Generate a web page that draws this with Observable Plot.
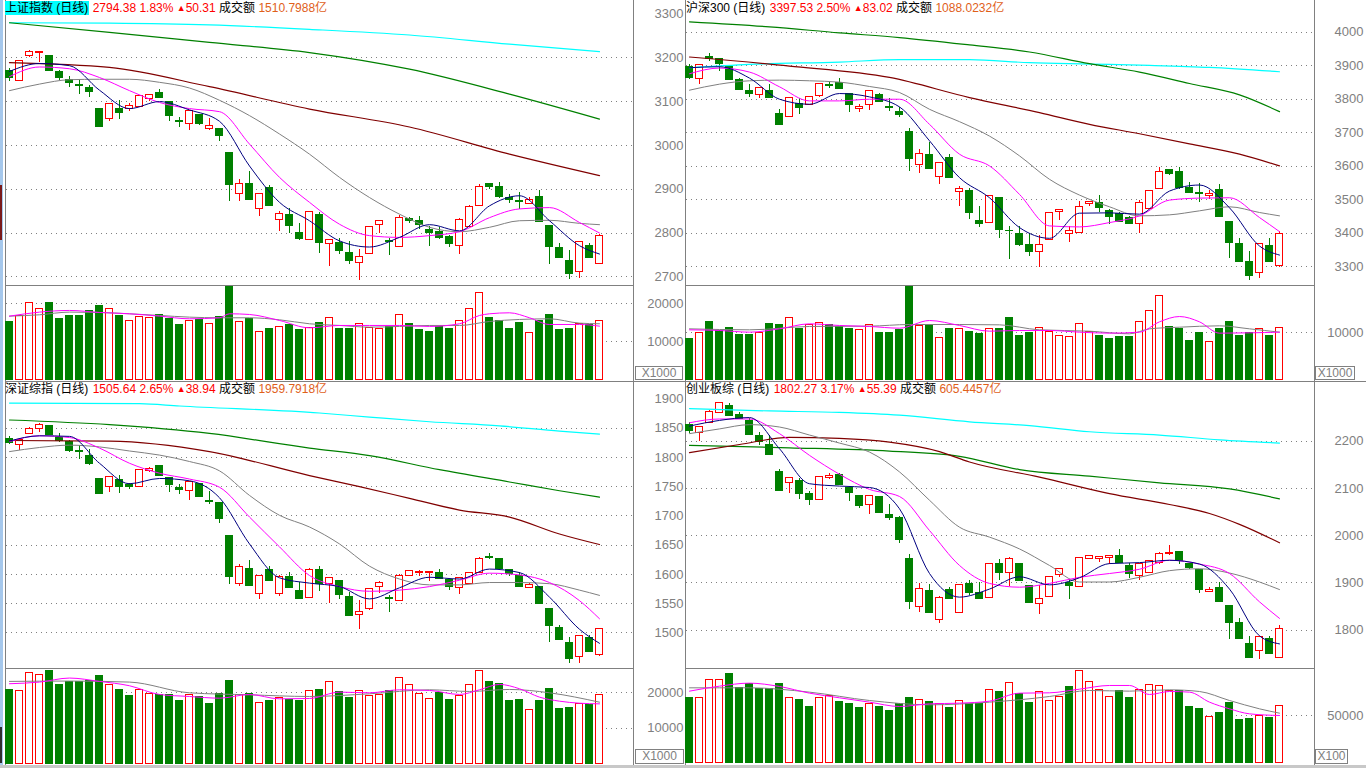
<!DOCTYPE html>
<html>
<head>
<meta charset="utf-8">
<script src="https://cdn.jsdelivr.net/npm/d3@7"></script>
<script src="https://cdn.jsdelivr.net/npm/@observablehq/plot@0.6"></script>
<style>
html,body{margin:0;padding:0;background:#fff;}
#root{position:relative;width:1366px;height:768px;overflow:hidden;background:#fff;font-family:"Liberation Sans",Arial,"Noto Sans CJK SC",sans-serif;}
.abs{position:absolute;}
.title{position:absolute;font-size:12px;line-height:16px;white-space:nowrap;color:#000;font-family:"Liberation Sans",Arial,"Noto Sans CJK SC",sans-serif;}
.red{color:#ff0000;}
.org{color:#e0601a;}
.tri{font-size:9px;vertical-align:1px;}
.unit{position:absolute;border:1px solid #808080;color:#808080;font-size:12px;line-height:12px;text-align:center;box-sizing:border-box;background:#fff;font-family:"Liberation Sans",Arial,sans-serif;}
</style>
</head>
<body>
<div id="root"></div>
<script>
// ---------------- DATA ----------------
// 上证指数 (top-left)
const shO = [3170,3147,3203,3211,3205,3168,3149,3137,3130,3082,3060,3084,3083,3087,3107,3120,3100,3056,3050,3070,3037,3038,2983,2889,2912,2855,2902,2830,2841,2800,2785,2841,2775,2777,2754,2731,2752,2818,2781,2769,2832,2828,2807,2803,2791,2771,2813,2861,2912,2906,2881,2872,2866,2883,2816,2766,2737,2711,2771,2729];
const shH = [3175,3193,3216,3214,3206,3171,3157,3151,3136,3085,3094,3102,3096,3113,3115,3127,3100,3064,3079,3070,3062,3038,2983,2922,2940,2889,2908,2848,2857,2822,2848,2846,2785,2787,2780,2763,2813,2828,2787,2840,2836,2837,2814,2812,2794,2834,2862,2910,2912,2915,2888,2892,2880,2897,2816,2776,2759,2780,2777,2796];
const shL = [3147,3146,3201,3189,3169,3149,3132,3117,3109,3041,3055,3058,3077,3087,3101,3107,3055,3040,3033,3045,3035,3009,2872,2872,2876,2838,2861,2803,2799,2783,2784,2753,2724,2752,2728,2692,2751,2800,2748,2768,2822,2808,2769,2785,2766,2751,2812,2860,2899,2878,2867,2854,2865,2826,2727,2742,2693,2697,2744,2728];
const shC = [3155,3192,3214,3213,3169,3155,3142,3135,3121,3041,3094,3075,3089,3113,3115,3109,3068,3054,3079,3050,3045,3022,2909,2913,2876,2889,2861,2843,2815,2787,2848,2777,2785,2759,2735,2746,2813,2828,2779,2835,2827,2818,2799,2788,2775,2830,2860,2906,2904,2883,2875,2870,2875,2826,2768,2742,2706,2780,2744,2794];
const shV = [15100,16700,20300,18700,20100,16100,16700,16900,18000,19300,18700,16700,15500,16600,16300,17000,16100,14400,15600,15800,14700,16400,24300,15300,16100,12600,13300,14000,14300,13000,13600,14900,16200,13300,13500,14700,13700,13500,13900,17100,14800,13200,12700,13900,13300,15400,18700,22900,16200,15400,13300,14900,12300,15400,17100,13200,13500,14800,14500,15500];

// 沪深300 (top-right)
const hsO = [3897,3860,3926,3919,3896,3858,3825,3813,3825,3755,3748,3787,3783,3810,3841,3847,3815,3770,3782,3813,3776,3762,3702,3603,3634,3568,3626,3523,3526,3437,3432,3504,3408,3399,3365,3345,3379,3465,3397,3402,3487,3490,3467,3457,3445,3427,3472,3531,3588,3582,3534,3519,3511,3528,3435,3368,3314,3282,3362,3302];
const hsH = [3904,3901,3937,3921,3898,3861,3843,3833,3843,3768,3803,3802,3809,3845,3849,3861,3815,3785,3825,3816,3803,3775,3714,3651,3670,3609,3636,3539,3535,3479,3511,3506,3420,3419,3399,3394,3461,3470,3421,3496,3496,3512,3470,3462,3450,3499,3527,3596,3588,3596,3551,3548,3527,3545,3435,3384,3345,3367,3385,3404];
const hsL = [3858,3845,3914,3882,3857,3828,3805,3802,3803,3723,3745,3755,3782,3805,3833,3832,3760,3760,3765,3790,3762,3745,3584,3578,3593,3546,3564,3479,3442,3417,3430,3384,3322,3360,3330,3297,3378,3437,3373,3401,3480,3462,3425,3435,3425,3400,3471,3530,3573,3531,3518,3491,3500,3449,3325,3315,3258,3266,3315,3297];
const hsC = [3864,3901,3919,3904,3857,3828,3817,3833,3805,3723,3803,3773,3807,3845,3839,3832,3782,3778,3825,3792,3774,3754,3623,3636,3593,3609,3564,3531,3461,3427,3511,3409,3406,3366,3345,3364,3461,3468,3407,3479,3493,3475,3450,3435,3429,3491,3525,3582,3578,3536,3519,3517,3517,3449,3372,3315,3273,3367,3315,3397];
const hsV = [8720,9860,12130,10280,10990,9430,9570,9930,11910,11700,13120,10640,11630,12060,11490,11130,10850,10570,11630,9860,10000,10570,19650,11280,11490,8870,10850,10780,10070,9720,10780,10780,13190,9360,9860,10990,10070,9150,9010,11840,10070,9150,8720,8940,8940,12270,14470,17870,11130,10640,8090,9790,8010,10850,12340,9150,9860,10780,9150,10990];

// 深证综指 (bottom-left)
const szO = [1831,1821,1840,1848,1853,1834,1827,1811,1802,1763,1749,1762,1752,1749,1776,1785,1765,1747,1742,1754,1726,1722,1665,1584,1609,1566,1608,1566,1596,1571,1560,1607,1584,1588,1562,1531,1540,1578,1559,1554,1598,1602,1602,1602,1591,1577,1584,1602,1630,1626,1608,1598,1577,1579,1541,1508,1482,1458,1491,1462];
const szH = [1836,1831,1851,1858,1854,1841,1829,1821,1813,1764,1767,1769,1756,1778,1782,1787,1766,1753,1758,1755,1741,1723,1666,1617,1624,1598,1613,1598,1603,1586,1610,1613,1595,1590,1569,1555,1576,1587,1563,1599,1606,1606,1605,1609,1592,1595,1603,1628,1635,1627,1609,1604,1585,1580,1542,1512,1492,1495,1496,1508];
const szL = [1822,1811,1839,1843,1839,1826,1809,1796,1787,1736,1740,1739,1745,1748,1775,1769,1740,1737,1727,1732,1719,1687,1582,1580,1580,1557,1588,1562,1576,1558,1559,1571,1550,1557,1529,1506,1539,1568,1535,1553,1597,1597,1587,1591,1572,1566,1583,1601,1625,1608,1597,1578,1575,1550,1483,1487,1447,1447,1468,1460];
const szC = [1824,1829,1849,1856,1839,1828,1811,1809,1788,1737,1767,1749,1750,1778,1780,1769,1752,1744,1758,1732,1724,1694,1595,1613,1580,1598,1588,1596,1576,1558,1608,1584,1594,1564,1529,1535,1575,1586,1557,1598,1605,1604,1604,1592,1578,1594,1602,1627,1628,1609,1600,1578,1581,1550,1512,1487,1456,1494,1468,1506];
const szV = [20660,20470,25690,25120,26070,22090,23030,23030,23320,24640,22270,20850,18960,20660,19720,19240,19240,17820,19430,18770,16970,19530,23220,19240,19720,17160,17540,18480,18100,17630,20470,20850,23130,20190,18390,20470,18960,19240,20380,24270,22090,19530,18290,19900,18100,19150,22270,26260,22940,22370,17820,18100,15170,17820,20950,15550,15830,16870,16680,19430];

// 创业板综 (bottom-right)
const cyO = [2234,2218,2239,2259,2274,2255,2243,2210,2193,2134,2112,2115,2088,2076,2122,2128,2102,2083,2065,2081,2043,2037,1951,1849,1884,1822,1886,1837,1897,1878,1869,1941,1921,1941,1894,1856,1870,1916,1900,1892,1951,1951,1952,1958,1936,1915,1922,1943,1962,1965,1941,1927,1881,1890,1851,1815,1771,1755,1782,1742];
const cyH = [2239,2229,2264,2281,2280,2261,2248,2219,2212,2140,2122,2121,2093,2124,2131,2132,2104,2085,2085,2082,2065,2040,1960,1898,1896,1872,1890,1897,1905,1901,1941,1950,1953,1941,1895,1894,1914,1931,1907,1954,1958,1957,1958,1970,1942,1941,1947,1964,1979,1966,1942,1928,1890,1902,1852,1824,1787,1786,1787,1811];
const cyL = [2216,2200,2237,2258,2254,2245,2212,2190,2170,2093,2089,2077,2063,2075,2118,2107,2073,2057,2045,2048,2033,1983,1843,1838,1837,1815,1865,1835,1873,1865,1868,1905,1893,1904,1857,1833,1869,1912,1864,1891,1949,1944,1940,1943,1909,1905,1921,1940,1959,1940,1929,1878,1879,1859,1780,1782,1740,1737,1749,1741];
const cyC = [2222,2229,2261,2280,2254,2247,2214,2198,2170,2095,2122,2088,2076,2124,2127,2107,2090,2063,2085,2048,2037,1990,1859,1888,1837,1869,1865,1896,1878,1865,1941,1921,1951,1904,1857,1866,1913,1930,1894,1953,1956,1955,1958,1943,1919,1941,1946,1962,1964,1947,1931,1886,1886,1859,1815,1782,1742,1785,1749,1802];
const cyV = [67830,68530,87410,87410,93010,78670,82520,77270,77270,82520,68530,65730,58390,68530,69930,63640,61890,57340,62240,58390,54200,62240,67830,66430,63640,62240,57340,65380,62240,62240,76920,74130,84270,72730,62590,74480,65380,69230,79370,96850,85310,76570,69580,75520,67830,76920,82170,80420,75520,75520,58390,56290,48950,52100,63290,44760,46850,49650,47900,60140];

// moving averages (sampled at candle indices)
const shortIdx = [0,3,6,9,12,15,18,21,24,27,30,33,36,39,42,45,48,51,54,57,59];
const shMa5  = [3169,3187,3182,3126,3084,3100,3081,3055,2953,2870,2828,2782,2768,2790,2819,2805,2862,2885,2828,2771,2752];
const shMa10 = [3157,3179,3175,3155,3125,3098,3084,3077,3003,2927,2870,2820,2794,2790,2794,2803,2835,2855,2858,2824,2800];
const shMa20 = [3125,3140,3150,3151,3151,3144,3131,3103,3068,3026,2980,2927,2881,2843,2813,2803,2813,2828,2829,2822,2819];
const shLongIdx = [0,10,20,30,40,50,59];
const shMa60  = [3189,3178,3134,3083,3042,2980,2931];
const shMa120 = [3280,3258,3235,3212,3174,3117,3060];
const shMa250 = [3280,3279,3275,3265,3252,3231,3214];

const hsMa5  = [3894,3897,3863,3800,3785,3817,3807,3777,3676,3566,3506,3417,3385,3460,3461,3457,3526,3544,3476,3362,3335];
const hsMa10 = [3876,3893,3881,3837,3795,3795,3800,3800,3725,3636,3601,3516,3422,3419,3432,3452,3499,3505,3506,3447,3405];
const hsMa20 = [3827,3845,3855,3857,3855,3851,3838,3820,3770,3733,3690,3631,3561,3514,3479,3452,3455,3467,3479,3462,3452];
const hsMa60Idx = [0,10,20,28,35,40,45,50,55,59];
const hsMa60 = [3926,3899,3865,3805,3760,3725,3697,3667,3636,3601];
const hsMa120Idx = [0,8,15,21,28,34,40,45,50,55,59];
const hsMa120 = [4031,4016,3998,3984,3962,3941,3906,3881,3847,3813,3763];
const hsMa250Idx = [0,6,15,21,28,34,40,46,52,59];
const hsMa250 = [3894,3904,3911,3918,3918,3909,3905,3901,3895,3882];

const szMa5  = [1828,1837,1836,1790,1755,1764,1760,1731,1652,1594,1585,1579,1558,1577,1595,1592,1609,1603,1561,1506,1482];
const szMa10 = [1827,1837,1834,1816,1790,1773,1763,1749,1698,1647,1598,1579,1571,1573,1579,1590,1602,1599,1586,1555,1524];
const szMa20 = [1810,1817,1821,1818,1811,1804,1793,1777,1735,1701,1681,1652,1614,1592,1582,1582,1586,1586,1584,1573,1564];
const szMa60Idx = [0,10,20,30,35,40,45,50,55,59];
const szMa60 = [1829,1828,1810,1769,1750,1730,1710,1698,1669,1651];
const szMa120Idx = [0,10,20,30,36,43,50,55,59];
const szMa120 = [1864,1856,1841,1816,1803,1779,1758,1743,1732];
const szMa250Idx = [0,13,17,31,36,42,49,55,59];
const szMa250 = [1893,1892,1888,1876,1869,1861,1854,1845,1840];

const cyMa5  = [2232,2244,2250,2184,2110,2105,2102,2057,1920,1870,1887,1913,1896,1911,1941,1943,1948,1940,1887,1788,1771];
const cyMa10 = [2239,2247,2247,2216,2170,2130,2098,2083,2011,1937,1899,1891,1899,1912,1920,1929,1948,1940,1920,1860,1825];
const cyMa20 = [2216,2226,2235,2230,2213,2196,2177,2135,2075,2018,1997,1972,1937,1902,1902,1912,1926,1930,1921,1902,1886];
const cyMa60Idx = [0,5,10,15,20,25,28,35,42,48,52,55,59];
const cyMa60 = [2176,2193,2208,2206,2198,2178,2156,2124,2089,2066,2047,2024,1985];
const cyMa120Idx = [0,10,20,27,33,40,47,54,59];
const cyMa120 = [2191,2186,2179,2168,2140,2126,2112,2099,2078];
const cyMa250Idx = [0,8,15,21,28,34,40,47,53,59];
const cyMa250 = [2269,2264,2261,2255,2241,2233,2220,2213,2203,2196];

// volume moving averages
const shVma5Idx = [0,3,6,9,12,15,18,21,22,24,27,30,33,36,39,42,45,47,48,50,52,54,57,59];
const shVma5 = [16750,17810,18250,17720,17370,16750,16050,16320,17370,17190,15610,13680,14300,14300,14300,14040,14740,16930,17370,17630,16320,14560,14560,14120];
const shVma10 = [16750,17110,17810,17720,17370,16930,16490,16320,16320,15790,14740,14300,13860,14040,14300,14300,15350,15880,16050,14910,14740];
const hsVma5Idx = [0,3,6,9,12,15,18,21,24,27,30,33,36,39,42,45,47,49,51,53,56,59];
const hsVma5 = [10570,10430,10070,10780,11840,11490,11280,10920,12550,11490,10280,10430,10430,10070,9860,10070,12270,13400,12270,9860,9930,10070];
const hsVma10Idx = [0,6,12,18,22,27,31,35,40,44,46,49,53,56,59];
const hsVma10 = [10780,10570,11280,11350,11700,11700,11630,10570,10280,9720,10780,11130,11420,10780,10070];
const szVma5Idx = [0,3,6,9,12,15,18,21,24,27,30,33,36,39,42,45,47,49,51,53,55,57,59];
const szVma5 = [22560,23030,24170,23220,21990,19530,18960,18480,19530,18290,18390,20190,20000,20850,20660,19530,20850,22370,21140,18770,17630,17060,16870];
const szVma10Idx = [0,6,12,18,24,30,36,42,46,50,54,59];
const szVma10 = [23220,23320,23030,20000,19430,18960,19720,20850,20380,20950,20000,17350];
const cyVma5Idx = [0,3,6,9,12,15,18,21,24,27,30,33,36,39,42,44,46,48,50,52,54,56,59];
const cyVma5 = [75520,80770,83920,80420,73430,68530,63990,59440,62240,62940,65030,73430,73780,77620,81470,81470,72030,75170,74480,63990,56990,51750,50000];
const cyVma10Idx = [0,6,12,18,24,30,36,40,44,48,51,54,57,59];
const cyVma10 = [79020,79020,74480,65730,61190,63990,69930,76220,75520,76920,75170,65730,56990,52450];

// tick labels / grid values
const shTicks = [2700,2800,2900,3000,3100,3200,3300];
const shGrid = [2700,2800,2900,3000,3100,3200];
const hsTicks = [3300,3400,3500,3600,3700,3800,3900,4000];
const szTicks = [1500,1550,1600,1650,1700,1750,1800,1850,1900];
const szGrid = [1500,1550,1600,1650,1700,1750,1800,1850];
const cyTicks = [1800,1900,2000,2100,2200];
const shVolTicks = [10000,20000];
const hsVolTicks = [10000];
const szVolTicks = [10000,20000];
const cyVolTicks = [50000];

// titles
const titleNames = ["上证指数 (日线)","沪深300 (日线)","深证综指 (日线)","创业板综 (日线)"];
const titleLast = ["2794.38","3397.53","1505.64","1802.27"];
const titlePct = ["1.83%","2.50%","2.65%","3.17%"];
const titleChg = ["50.31","83.02","38.94","55.39"];
const titleAmt = ["1510.7988亿","1088.0232亿","1959.7918亿","605.4457亿"];

// ---------------- DRAWING ----------------
const UP = "#ff0000", DOWN = "#008000";
const C = {ma5:"#000080", ma10:"#ff00ff", ma20:"#808080", ma60:"#800000", ma120:"#008000", ma250:"#00ffff"};
const FONT = "Liberation Sans, Arial, sans-serif";
const root = document.getElementById("root");

function rowsOf(O,H,L,Cl,V){
  return O.map((o,i)=>({i, open:o, high:H[i], low:L[i], close:Cl[i], vol:V[i], up: Cl[i] >= o}));
}
function pts(idx, vals){ return idx.map((x,k)=>({x, y: vals[k]})); }

function addDiv(css, html){
  const d = document.createElement("div");
  d.className = "abs";
  d.style.cssText += css;
  if (html) d.innerHTML = html;
  root.appendChild(d);
  return d;
}
function place(svg, left, top, w, h){
  const d = addDiv(`left:${left}px;top:${top}px;width:${w}px;height:${h}px;`);
  d.appendChild(svg);
}

function pricePlot(p){
  const rows = p.rows;
  return Plot.plot({
    width: p.w, height: p.h,
    marginLeft: p.ml, marginRight: p.mr, marginTop: 0, marginBottom: 0,
    style: {background: "transparent", fontFamily: FONT, fontSize: "12px", overflow: "visible"},
    x: {domain: [-0.5, 59.5], range: p.xRange, axis: null},
    y: {domain: p.yDomain, range: p.yRange, axis: null},
    color: {type: "identity"},
    marks: [
      Plot.ruleY(p.grid, {stroke: "#808080", strokeDasharray: "1,4", shapeRendering: "crispEdges"}),
      Plot.ruleX(rows, {x: "i", y1: "low", y2: "high", stroke: d => d.up ? UP : DOWN, shapeRendering: "crispEdges"}),
      Plot.rect(rows, {x1: d => d.i - 0.31, x2: d => d.i + 0.31, y1: "open", y2: "close",
        fill: d => d.up ? "#ffffff" : DOWN, stroke: d => d.up ? UP : DOWN, shapeRendering: "crispEdges"}),
      Plot.line(p.ma250, {x: "x", y: "y", stroke: C.ma250, strokeWidth: 1.2, curve: "monotone-x"}),
      Plot.line(p.ma120, {x: "x", y: "y", stroke: C.ma120, strokeWidth: 1.2, curve: "monotone-x"}),
      Plot.line(p.ma60, {x: "x", y: "y", stroke: C.ma60, strokeWidth: 1.2, curve: "monotone-x"}),
      Plot.line(p.ma20, {x: "x", y: "y", stroke: C.ma20, strokeWidth: 1, curve: "monotone-x"}),
      Plot.line(p.ma10, {x: "x", y: "y", stroke: C.ma10, strokeWidth: 1, curve: "monotone-x"}),
      Plot.line(p.ma5, {x: "x", y: "y", stroke: C.ma5, strokeWidth: 1, curve: "monotone-x"}),
      Plot.text(p.ticks, {y: d => d, text: d => String(d), frameAnchor: "right", textAnchor: "end", dx: 49, fill: "#808080", fontSize: 13})
    ]
  });
}

function volPlot(p){
  const rows = p.rows;
  return Plot.plot({
    width: p.w, height: p.h,
    marginLeft: p.ml, marginRight: p.mr, marginTop: 0, marginBottom: 0,
    style: {background: "transparent", fontFamily: FONT, fontSize: "12px", overflow: "visible"},
    x: {domain: [-0.5, 59.5], range: p.xRange, axis: null},
    y: {domain: p.yDomain, range: p.yRange, axis: null},
    color: {type: "identity"},
    marks: [
      Plot.ruleY(p.grid, {stroke: "#808080", strokeDasharray: "1,4", shapeRendering: "crispEdges"}),
      Plot.rect(rows, {x1: d => d.i - 0.36, x2: d => d.i + 0.36, y1: () => 0, y2: "vol",
        fill: d => d.up ? "#ffffff" : DOWN, stroke: d => d.up ? UP : DOWN, shapeRendering: "crispEdges"}),
      Plot.line(p.ma10, {x: "x", y: "y", stroke: "#808080", strokeWidth: 1, curve: "monotone-x"}),
      Plot.line(p.ma5, {x: "x", y: "y", stroke: "#ff00ff", strokeWidth: 1, curve: "monotone-x"}),
      Plot.text(p.ticks, {y: d => d, text: d => String(d), frameAnchor: "right", textAnchor: "end", dx: 49, fill: "#808080", fontSize: 13})
    ]
  });
}

// window decorations / panel borders
addDiv("left:0;top:0;width:3px;height:768px;background:#a6c8ec;");
addDiv("left:0;top:185px;width:2px;height:55px;background:#7a1a1a;");
addDiv("left:0;top:727px;width:2px;height:36px;background:#303030;");
addDiv("left:5px;top:0;width:1px;height:765px;background:#808080;");
addDiv("left:633px;top:0;width:1px;height:765px;background:#808080;");
addDiv("left:685px;top:0;width:1px;height:765px;background:#808080;");
addDiv("left:1314px;top:0;width:1px;height:765px;background:#808080;");
addDiv("left:5px;top:285px;width:629px;height:1px;background:#808080;");
addDiv("left:685px;top:285px;width:630px;height:1px;background:#808080;");
addDiv("left:5px;top:381px;width:1361px;height:1px;background:#808080;");
addDiv("left:5px;top:668px;width:629px;height:1px;background:#808080;");
addDiv("left:685px;top:668px;width:630px;height:1px;background:#808080;");
addDiv("left:0;top:765px;width:1366px;height:3px;background:#c8c8c8;");

const LEFT = {w: 686, ml: 6, mr: 52, xRange: [4, 604]};
const RIGHT = {w: 680, ml: 0, mr: 52, xRange: [-2, 598]};

const panels = [
  {pos: LEFT, left: 0, top: 0, h: 285, rows: rowsOf(shO,shH,shL,shC,shV),
   yDomain: [2700,3200], yRange: [276.3,57.3], grid: shGrid, ticks: shTicks,
   ma5: pts(shortIdx,shMa5), ma10: pts(shortIdx,shMa10), ma20: pts(shortIdx,shMa20),
   ma60: pts(shLongIdx,shMa60), ma120: pts(shLongIdx,shMa120), ma250: pts(shLongIdx,shMa250),
   vTop: 285, vh: 95, vDomain: [0,20000], vRange: [94.3,18.3], vGrid: shVolTicks, vTicks: shVolTicks,
   vma5: pts(shVma5Idx, shVma5), vma10: pts(shortIdx, shVma10)},
  {pos: RIGHT, left: 686, top: 0, h: 285, rows: rowsOf(hsO,hsH,hsL,hsC,hsV),
   yDomain: [3300,4000], yRange: [266.3,31.7], grid: hsTicks, ticks: hsTicks,
   ma5: pts(shortIdx,hsMa5), ma10: pts(shortIdx,hsMa10), ma20: pts(shortIdx,hsMa20),
   ma60: pts(hsMa60Idx,hsMa60), ma120: pts(hsMa120Idx,hsMa120), ma250: pts(hsMa250Idx,hsMa250),
   vTop: 285, vh: 95, vDomain: [0,10000], vRange: [94,47], vGrid: hsVolTicks, vTicks: hsVolTicks,
   vma5: pts(hsVma5Idx, hsVma5), vma10: pts(hsVma10Idx, hsVma10)},
  {pos: LEFT, left: 0, top: 381, h: 287, rows: rowsOf(szO,szH,szL,szC,szV),
   yDomain: [1500,1850], yRange: [251.3,46.7], grid: szGrid, ticks: szTicks,
   ma5: pts(shortIdx,szMa5), ma10: pts(shortIdx,szMa10), ma20: pts(shortIdx,szMa20),
   ma60: pts(szMa60Idx,szMa60), ma120: pts(szMa120Idx,szMa120), ma250: pts(szMa250Idx,szMa250),
   vTop: 668, vh: 97, vDomain: [0,20000], vRange: [95,24.3], vGrid: szVolTicks, vTicks: szVolTicks,
   vma5: pts(szVma5Idx, szVma5), vma10: pts(szVma10Idx, szVma10)},
  {pos: RIGHT, left: 686, top: 381, h: 287, rows: rowsOf(cyO,cyH,cyL,cyC,cyV),
   yDomain: [1800,2200], yRange: [248.7,59.7], grid: cyTicks, ticks: cyTicks,
   ma5: pts(shortIdx,cyMa5), ma10: pts(shortIdx,cyMa10), ma20: pts(shortIdx,cyMa20),
   ma60: pts(cyMa60Idx,cyMa60), ma120: pts(cyMa120Idx,cyMa120), ma250: pts(cyMa250Idx,cyMa250),
   vTop: 668, vh: 97, vDomain: [0,50000], vRange: [94.7,47], vGrid: cyVolTicks, vTicks: cyVolTicks,
   vma5: pts(cyVma5Idx, cyVma5), vma10: pts(cyVma10Idx, cyVma10)}
];

panels.forEach(p => {
  const price = pricePlot({w: p.pos.w, h: p.h, ml: p.pos.ml, mr: p.pos.mr, xRange: p.pos.xRange,
    rows: p.rows, yDomain: p.yDomain, yRange: p.yRange, grid: p.grid, ticks: p.ticks,
    ma5: p.ma5, ma10: p.ma10, ma20: p.ma20, ma60: p.ma60, ma120: p.ma120, ma250: p.ma250});
  place(price, p.left, p.top, p.pos.w, p.h);
  const vol = volPlot({w: p.pos.w, h: p.vh, ml: p.pos.ml, mr: p.pos.mr, xRange: p.pos.xRange,
    rows: p.rows, yDomain: p.vDomain, yRange: p.vRange, grid: p.vGrid, ticks: p.vTicks,
    ma5: p.vma5, ma10: p.vma10});
  place(vol, p.left, p.vTop, p.pos.w, p.vh);
});

// unit boxes
const unitBoxes = [
  {t: "X1000", l: 635, top: 366, w: 48, h: 14},
  {t: "X1000", l: 1315, top: 366, w: 40, h: 14},
  {t: "X1000", l: 635, top: 749, w: 49, h: 15},
  {t: "X100", l: 1315, top: 749, w: 33, h: 15}
];
unitBoxes.forEach(b => {
  const d = addDiv(`left:${b.l}px;top:${b.top}px;width:${b.w}px;height:${b.h}px;`);
  d.className = "unit";
  d.textContent = b.t;
});

// titles
const titlePos = [[5,0],[686,0],[5,381],[686,381]];
titleNames.forEach((n,k) => {
  const bg = k === 0 ? "background:#00ffff;" : "";
  const d = addDiv(`left:${titlePos[k][0]}px;top:${titlePos[k][1]}px;`,
    `<span style="${bg}padding-right:1px">${n}</span> <span class="red">${titleLast[k]} ${titlePct[k]}</span> <span class="red"><span class="tri">▲</span>${titleChg[k]}</span> 成交额 <span class="org">${titleAmt[k]}</span>`);
  d.className = "title";
});
</script>
</body>
</html>
